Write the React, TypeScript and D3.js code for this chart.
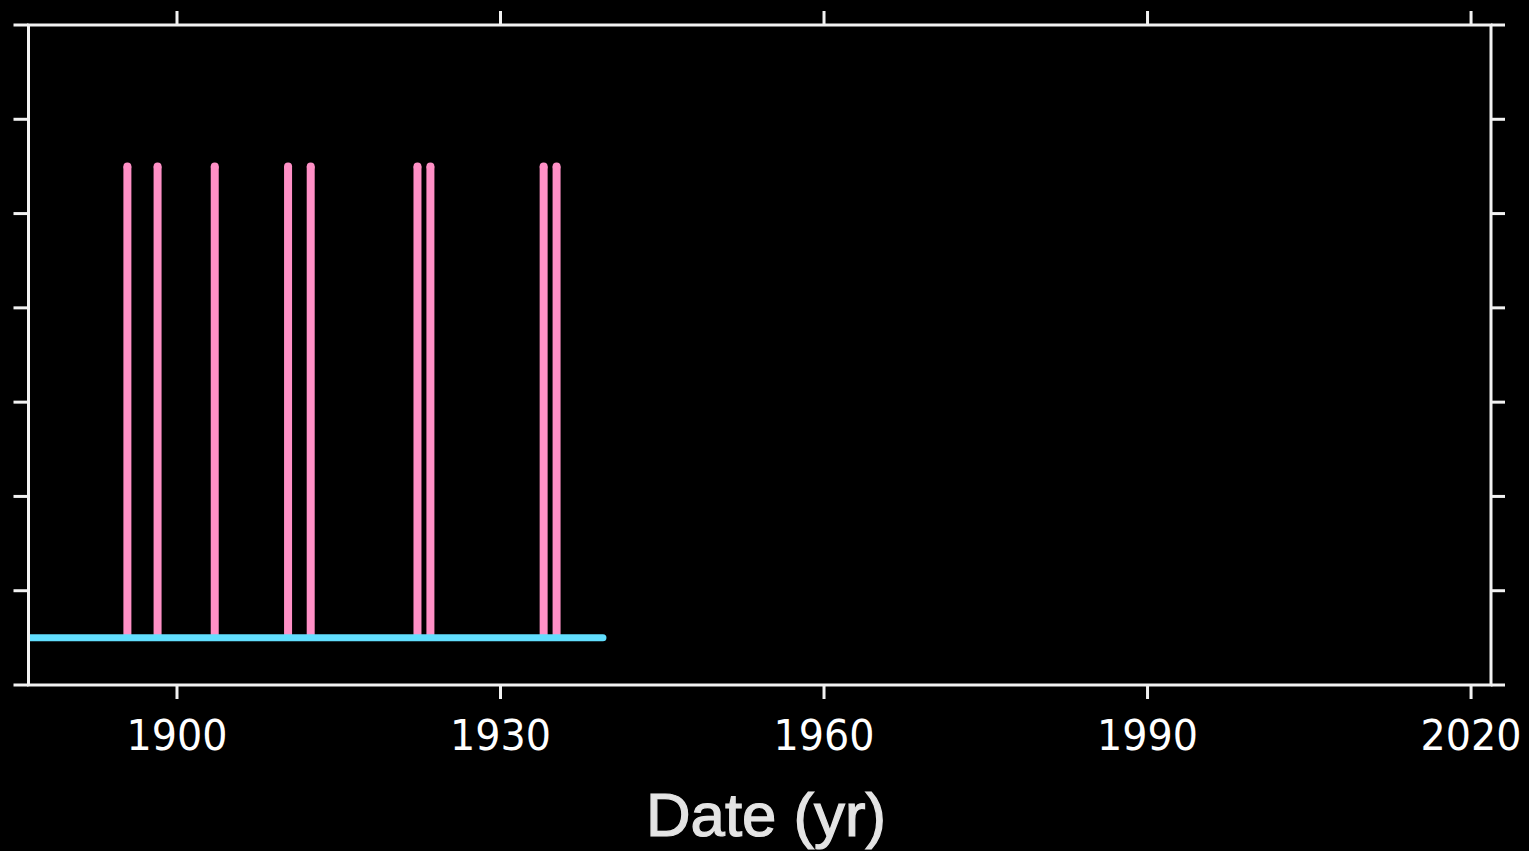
import React from "react";
import * as d3 from "d3";

const eventYears: number[] = [1895.4, 1898.2, 1903.5, 1910.3, 1912.4, 1922.3, 1923.5, 1934.0, 1935.2];
const eventLow = 0.5;
const eventHigh = 5.5;
const baselineSpan: number[] = [1880, 1939.5];
const baselineValue = 0.5;
const xTicks: number[] = [1900, 1930, 1960, 1990, 2020];
const yTicks: number[] = [0, 1, 2, 3, 4, 5, 6, 7];
const xDomain: number[] = [1886.23, 2021.85];
const yDomain: number[] = [0, 7];
const xLabel = "Date (yr)";

const W = 1529;
const H = 851;
const L = 28.5, R = 1491, T = 25, B = 685;

export default function App() {
  const x = d3.scaleLinear().domain(xDomain).range([L, R]);
  const y = d3.scaleLinear().domain(yDomain).range([B, T]);
  const line = d3.line<[number, number]>().x(d => x(d[0])).y(d => y(d[1]));
  const tickLen = 14;
  const axisColor = "#f2f2f2";
  const pink = "#ff90c6";
  return (
    <svg width={W} height={H} style={{ position: "fixed", left: 0, top: 0, background: "#000" }}>
      <rect x={0} y={0} width={W} height={H} fill="#000" />
      <defs>
        <clipPath id="plotclip">
          <rect x={L} y={T - 10} width={R - L} height={B - T + 20} />
        </clipPath>
      </defs>
      <g clipPath="url(#plotclip)">
        {eventYears.map((yr, i) => (
          <g key={i}>
            <path d={line([[yr, eventLow], [yr, eventHigh]]) || ""}
              stroke={pink} strokeWidth={8} strokeLinecap="butt" fill="none" />
            <circle cx={x(yr)} cy={y(eventHigh)} r={4} fill={pink} />
          </g>
        ))}
        <path d={line([[baselineSpan[0], baselineValue], [baselineSpan[1], baselineValue]]) || ""}
          stroke="#62defe" strokeWidth={7} strokeLinecap="round" fill="none" />
      </g>
      <rect x={L} y={T} width={R - L} height={B - T} fill="none" stroke={axisColor} strokeWidth={3} />
      {xTicks.map(t => (
        <g key={"x" + t}>
          <line x1={x(t)} x2={x(t)} y1={B} y2={B + tickLen} stroke={axisColor} strokeWidth={3} />
          <line x1={x(t)} x2={x(t)} y1={T} y2={T - tickLen} stroke={axisColor} strokeWidth={3} />
          <text x={x(t)} y={750} textAnchor="middle" fill="#ffffff"
            fontFamily="DejaVu Sans" fontSize={43} textLength={101} lengthAdjust="spacingAndGlyphs">{t}</text>
        </g>
      ))}
      {yTicks.map(t => (
        <g key={"y" + t}>
          <line x1={L} x2={L - tickLen - 1} y1={y(t)} y2={y(t)} stroke={axisColor} strokeWidth={3} />
          <line x1={R} x2={R + tickLen} y1={y(t)} y2={y(t)} stroke={axisColor} strokeWidth={3} />
        </g>
      ))}
      <text x={766} y={836} textAnchor="middle" fill="#e4e4e4" stroke="#e4e4e4" strokeWidth={1.2}
        fontFamily="Liberation Sans" fontSize={61} textLength={240} lengthAdjust="spacingAndGlyphs">{xLabel}</text>
    </svg>
  );
}
